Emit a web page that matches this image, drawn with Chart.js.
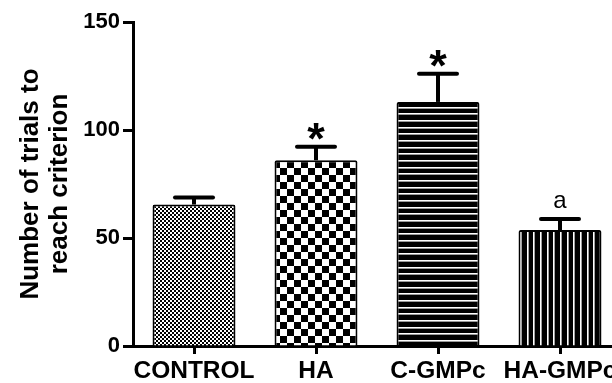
<!DOCTYPE html>
<html>
<head>
<meta charset="utf-8">
<script src="https://cdn.jsdelivr.net/npm/chart.js@4.4.1/dist/chart.umd.min.js"></script>
<style>
  html, body { margin: 0; padding: 0; overflow: hidden; background: #fff; }
  canvas { display: block; }
</style>
</head>
<body>
<canvas id="c" width="630" height="383"></canvas>
<script>
// Group means and standard errors
const groups = ['CONTROL', 'HA', 'C-GMPc', 'HA-GMPc'];
const trialMeans = [65.5, 86, 113, 53.7];
const trialSem = [3.3, 6.2, 13, 5.1];
const significance = ['', '*', '*', 'a'];
const yTicks = [0, 50, 100, 150];

const FONT = '"Liberation Sans", Arial, sans-serif';

// Small tiles used as hatch fills for the bars
function tile(w, h, paint) {
  const c = document.createElement('canvas');
  c.width = w; c.height = h;
  const g = c.getContext('2d');
  g.fillStyle = '#fff';
  g.fillRect(0, 0, w, h);
  paint(g);
  return c;
}
const ctx = document.getElementById('c').getContext('2d');
const fineChecker = ctx.createPattern(tile(4, 4, g => {
  g.fillStyle = '#000';
  g.fillRect(0, 0, 2, 2); g.fillRect(2, 2, 2, 2);
}), 'repeat');
const coarseChecker = ctx.createPattern(tile(14, 14, g => {
  g.fillStyle = '#000';
  g.fillRect(0, 0, 7, 7); g.fillRect(7, 7, 7, 7);
}), 'repeat');
const hStripes = ctx.createPattern(tile(20, 20, g => {
  g.fillStyle = '#000'; g.fillRect(0, 0, 20, 20);
  [0, 7, 13].forEach(p => {
    g.fillStyle = '#fff'; g.fillRect(0, p, 20, 1);
    g.fillStyle = '#9a9a9a'; g.fillRect(0, p + 1, 20, 1);
  });
}), 'repeat');
const vStripes = ctx.createPattern(tile(20, 20, g => {
  g.fillStyle = '#000'; g.fillRect(0, 0, 20, 20);
  [0, 7, 13].forEach(p => {
    g.fillStyle = '#fff'; g.fillRect(p, 0, 1, 20);
    g.fillStyle = '#a0a0a0'; g.fillRect(p + 1, 0, 1, 20);
  });
}), 'repeat');

// SEM whiskers (upper only) plus significance marks above them
const errorBars = {
  id: 'errorBars',
  afterDatasetsDraw(chart) {
    const { ctx, scales: { y } } = chart;
    const meta = chart.getDatasetMeta(0);
    ctx.save();
    ctx.strokeStyle = '#000';
    ctx.fillStyle = '#000';
    meta.data.forEach((bar, i) => {
      const cx = bar.x;
      const top = y.getPixelForValue(trialMeans[i]);
      const hi = y.getPixelForValue(trialMeans[i] + trialSem[i]);
      ctx.lineWidth = 4;
      ctx.lineCap = 'butt';
      ctx.beginPath(); ctx.moveTo(cx, top); ctx.lineTo(cx, hi); ctx.stroke();
      ctx.lineCap = 'round';
      ctx.beginPath(); ctx.moveTo(cx - 19, hi); ctx.lineTo(cx + 19, hi); ctx.stroke();

      const mark = significance[i];
      if (mark) {
        const star = mark === '*';
        ctx.font = star ? 'bold 45px ' + FONT : '24px ' + FONT;
        ctx.textAlign = 'center';
        ctx.textBaseline = 'alphabetic';
        const m = ctx.measureText(mark);
        const cy = hi - (star ? 15 : 17);
        ctx.fillText(mark, cx, cy + (m.actualBoundingBoxAscent - m.actualBoundingBoxDescent) / 2);
      }
    });
    ctx.restore();
  }
};

new Chart(ctx, {
  type: 'bar',
  data: {
    labels: groups,
    datasets: [{
      data: trialMeans,
      backgroundColor: [fineChecker, coarseChecker, hStripes, vStripes],
      borderColor: '#000',
      borderWidth: 2,
      borderRadius: 2,
      borderSkipped: 'start',
      barPercentage: 0.68,
      categoryPercentage: 1
    }]
  },
  options: {
    responsive: false,
    animation: false,
    events: [],
    layout: { padding: { top: 22, right: 9, bottom: 0, left: 0 } },
    plugins: { legend: { display: false }, tooltip: { enabled: false } },
    scales: {
      x: {
        afterFit(s) { s.height = 37; },
        grid: { display: true, drawOnChartArea: false, drawTicks: true, offset: false,
                tickLength: 8, tickWidth: 3, tickColor: '#000' },
        border: { display: true, color: '#000', width: 3 },
        ticks: { color: '#000', padding: 3, maxRotation: 0, autoSkip: false,
                 font: { family: FONT, size: 24.5, weight: 'bold' } }
      },
      y: {
        min: 0, max: 150,
        afterFit(s) { s.width = 133; },
        afterBuildTicks(s) { s.ticks = yTicks.map(v => ({ value: v })); },
        grid: { display: true, drawOnChartArea: false, drawTicks: true,
                tickLength: 10, tickWidth: 3, tickColor: '#000' },
        border: { display: true, color: '#000', width: 3 },
        ticks: { color: '#000', padding: 3, font: { family: FONT, size: 22, weight: 'bold' } },
        title: {
          display: true,
          text: ['Number of trials to', 'reach criterion'],
          color: '#000',
          padding: { top: 17, bottom: 0 },
          font: { family: FONT, size: 26, weight: 'bold', lineHeight: 1.1 }
        }
      }
    }
  },
  plugins: [errorBars]
});
</script>
</body>
</html>
